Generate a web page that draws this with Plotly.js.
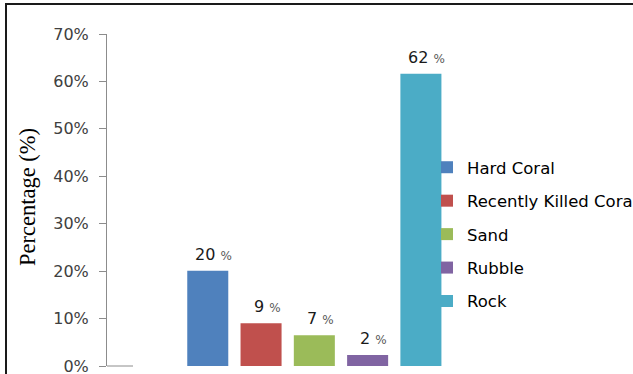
<!DOCTYPE html>
<html>
<head>
<meta charset="utf-8">
<script src="https://cdn.plot.ly/plotly-3.0.1.min.js"></script>
<style>html,body{margin:0;padding:0;background:#fff;}#chart{width:633px;height:374px;}</style>
</head>
<body>
<div id="chart"></div>
<script>
// ---- data ----
const categories = ["Hard Coral", "Recently Killed Coral", "Sand", "Rubble", "Rock"];
const values = [20.1, 9.0, 6.5, 2.3, 61.6];           // percentage
const labels = ["20", "9", "7", "2", "62"];             // data labels as printed
const colors = ["#4F81BD", "#C0504D", "#9BBB59", "#8064A2", "#4BACC6"];
const yTicks = [0, 10, 20, 30, 40, 50, 60, 70];

// ---- geometry (px) ----
const W = 633, H = 374;
const L = 107, R = 447, T = 34, B = 366;
const pw = R - L, ph = B - T;
const px2x = p => (p - L) / pw;
const py2y = p => (B - p) / ph;

const traces = categories.map((c, i) => ({
  type: "bar",
  name: c,
  x: [i],
  y: [values[i]],
  width: 0.77,
  marker: {color: colors[i]},
  legendgroup: "g" + i,
  hoverinfo: "skip"
}));

const annotations = categories.map((c, i) => ({
  x: i, y: values[i], xref: "x", yref: "y",
  text: labels[i] + " <span style='font-size:12px;color:#595959'>%</span>",
  showarrow: false, xanchor: "center", yanchor: "bottom",
  xshift: 6, yshift: 5,
  font: {family: "DejaVu Sans", size: 16, color: "#1a1a1a"}
}));
annotations.push({
  xref: "paper", yref: "paper", x: px2x(27), y: py2y(197),
  text: "Percentage (%)", textangle: -90, showarrow: false,
  xanchor: "center", yanchor: "middle",
  font: {family: "Liberation Serif", size: 22.5, color: "#000"}
});

const layout = {
  width: W, height: H,
  margin: {l: L, r: W - R, t: T, b: H - B, pad: 0, autoexpand: false},
  paper_bgcolor: "#fff", plot_bgcolor: "#fff",
  barmode: "overlay",
  showlegend: true,
  legend: {
    x: px2x(427), y: py2y(150), xanchor: "left", yanchor: "top",
    traceorder: "grouped", tracegroupgap: 9,
    font: {family: "DejaVu Sans", size: 16.5, color: "#000"},
    bgcolor: "rgba(0,0,0,0)", borderwidth: 0
  },
  xaxis: {
    type: "linear",
    range: [-(207.8 - L) / 53.3, 4 + (R - 420.9) / 53.3],
    showticklabels: false, showline: false, showgrid: false, zeroline: false, ticks: ""
  },
  yaxis: {
    range: [0, 70], tickvals: yTicks, ticktext: yTicks.map(v => v + "%"),
    showline: true, linecolor: "#8c8c8c", linewidth: 1,
    ticks: "outside", ticklen: 7, tickcolor: "#8c8c8c", tickwidth: 1,
    ticklabelstandoff: 7, ticklabeloverflow: "allow",
    showgrid: false, zeroline: false,
    tickfont: {family: "DejaVu Sans", size: 16, color: "#404040"},
    automargin: false
  },
  shapes: [
    // x-axis stub
    {type: "line", xref: "paper", yref: "paper", x0: 0, x1: px2x(133), y0: 0, y1: 0,
     line: {color: "#8c8c8c", width: 1}},
    // outer frame (top and left)
    {type: "line", xref: "paper", yref: "paper", x0: px2x(6), x1: px2x(633), y0: py2y(4), y1: py2y(4),
     line: {color: "#1a1a1a", width: 2}},
    {type: "line", xref: "paper", yref: "paper", x0: px2x(6), x1: px2x(6), y0: py2y(3), y1: py2y(374),
     line: {color: "#1a1a1a", width: 2}}
  ],
  annotations: annotations
};

Plotly.newPlot("chart", traces, layout, {staticPlot: true, displayModeBar: false});
</script>
</body>
</html>
